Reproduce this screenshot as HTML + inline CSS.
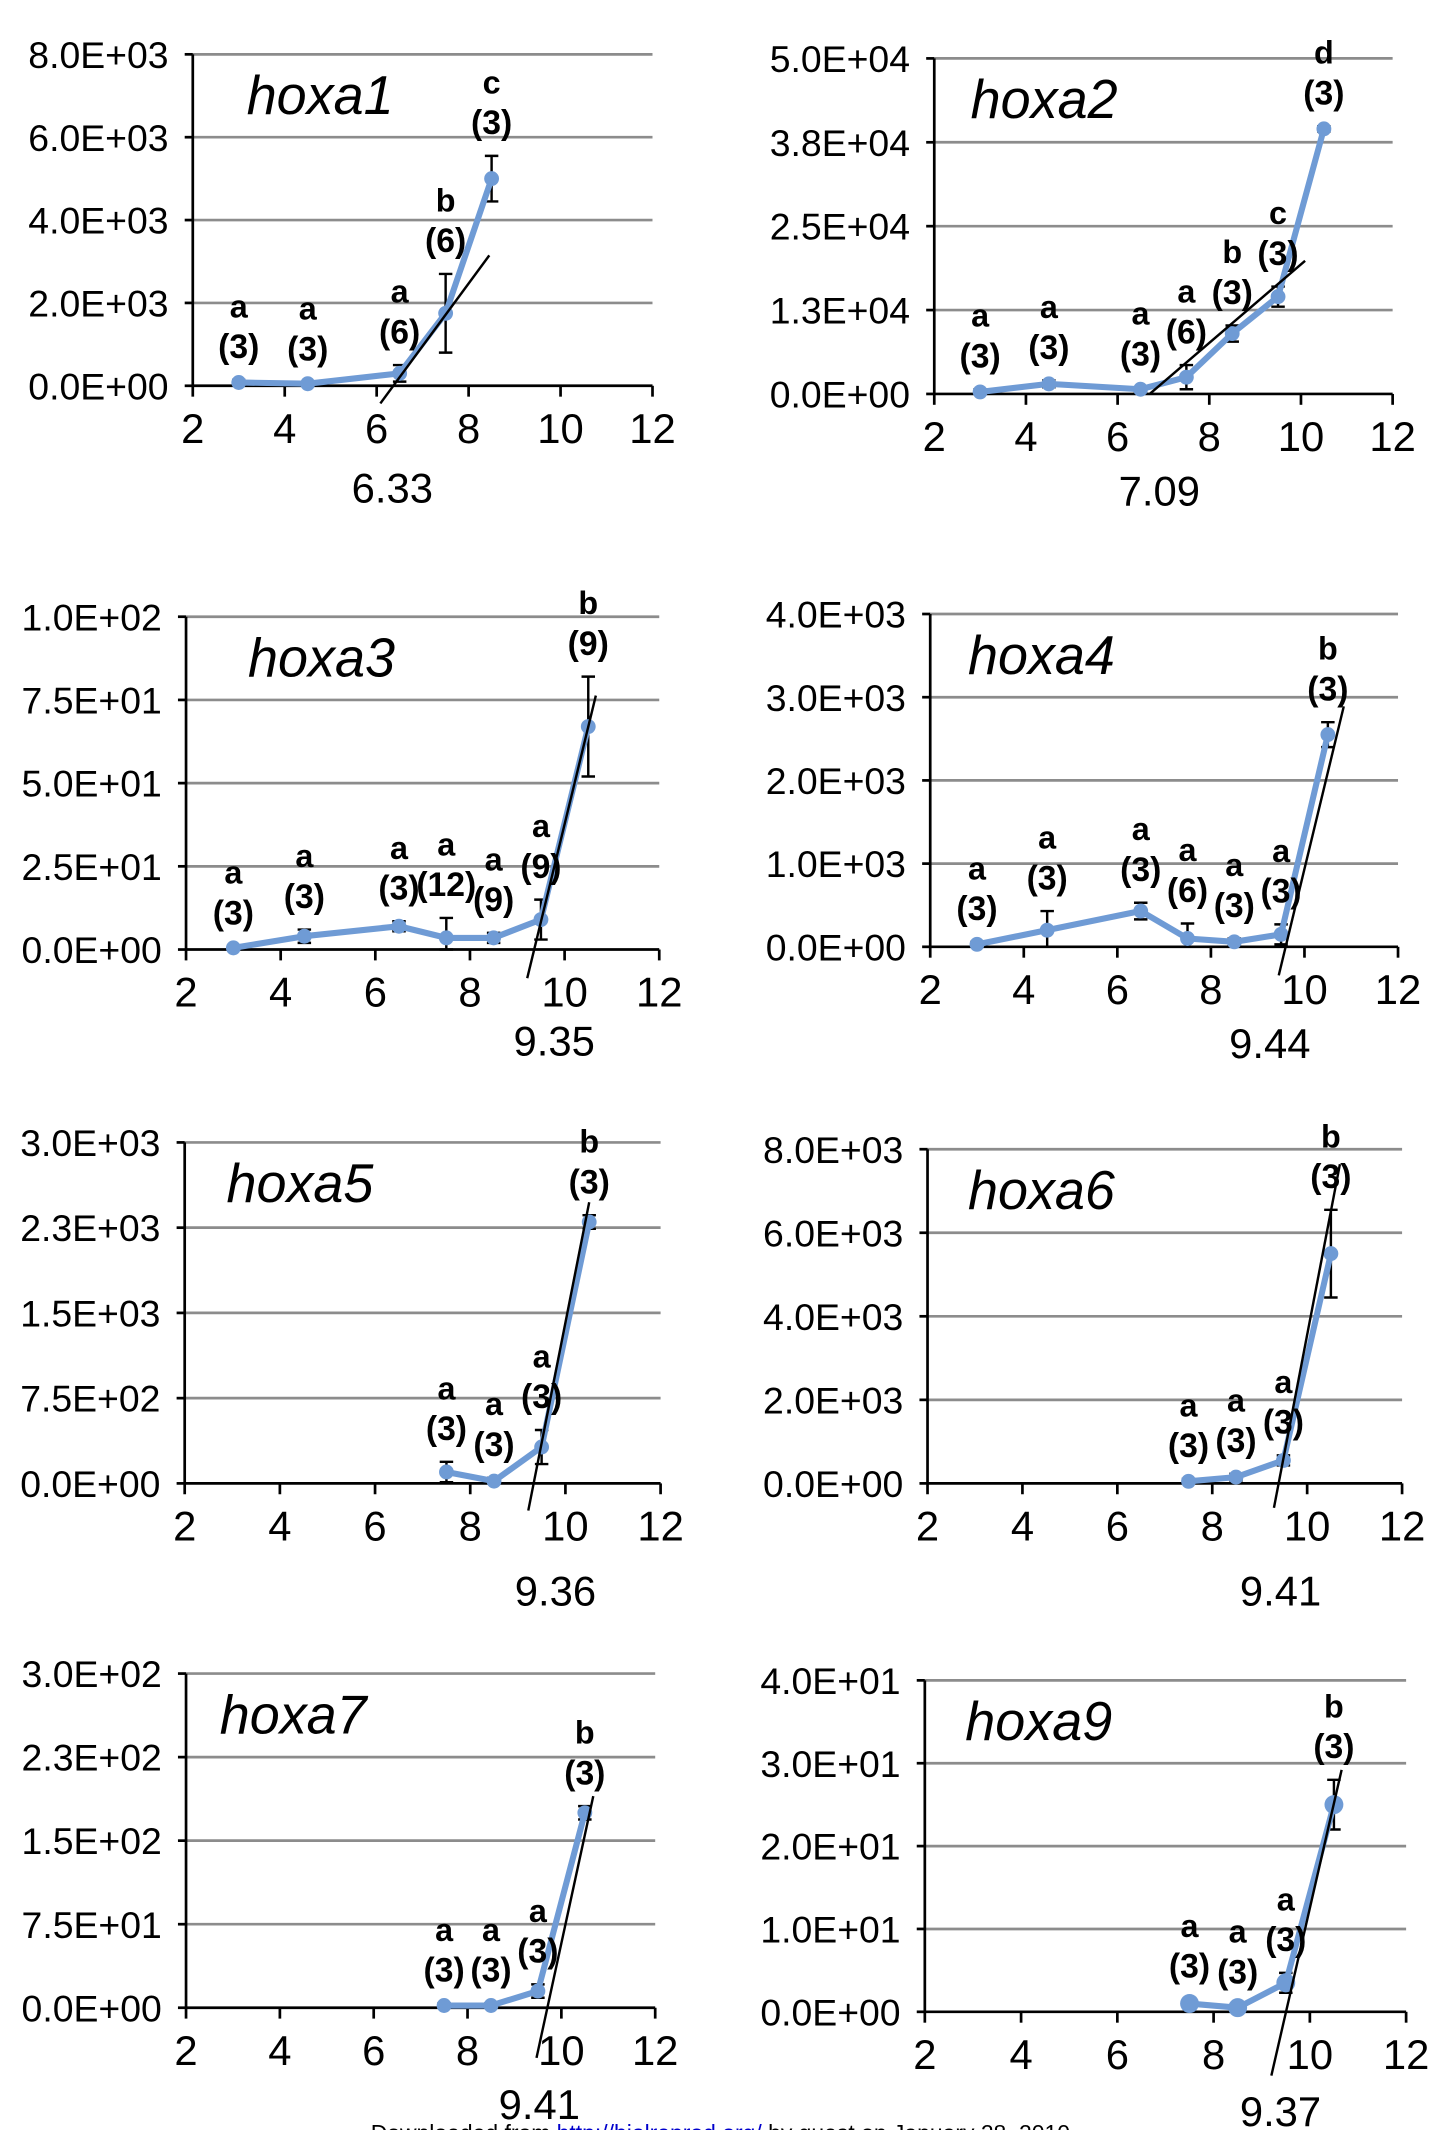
<!DOCTYPE html>
<html><head><meta charset="utf-8"><style>
html,body{margin:0;padding:0;background:#fff;}
svg{display:block;}
text{font-family:"Liberation Sans",sans-serif;}
</style></head><body>
<svg id="fig" width="1456" height="2130" viewBox="0 0 1080 1568" preserveAspectRatio="none" xmlns="http://www.w3.org/2000/svg">
<text x="275" y="1576" font-family="Liberation Serif" font-size="17" fill="#000">Downloaded from <tspan fill="#00c">http://biolreprod.org/</tspan> by guest on January 28, 2010</text>
</svg>
<script>
// ---- data per panel ----
const genes = ["hoxa1","hoxa2","hoxa3","hoxa4","hoxa5","hoxa6","hoxa7","hoxa9"];
const thresholds = ["6.33","7.09","9.35","9.44","9.36","9.41","9.41","9.37"];
const yMax = [8000,50000,100,4000,3000,8000,300,40];
const yTickLabels = [
 ["0.0E+00","2.0E+03","4.0E+03","6.0E+03","8.0E+03"],
 ["0.0E+00","1.3E+04","2.5E+04","3.8E+04","5.0E+04"],
 ["0.0E+00","2.5E+01","5.0E+01","7.5E+01","1.0E+02"],
 ["0.0E+00","1.0E+03","2.0E+03","3.0E+03","4.0E+03"],
 ["0.0E+00","7.5E+02","1.5E+03","2.3E+03","3.0E+03"],
 ["0.0E+00","2.0E+03","4.0E+03","6.0E+03","8.0E+03"],
 ["0.0E+00","7.5E+01","1.5E+02","2.3E+02","3.0E+02"],
 ["0.0E+00","1.0E+01","2.0E+01","3.0E+01","4.0E+01"]
];
const xTicks = [2,4,6,8,10,12];
const xVals = [
 [3,4.5,6.5,7.5,8.5],
 [3,4.5,6.5,7.5,8.5,9.5,10.5],
 [3,4.5,6.5,7.5,8.5,9.5,10.5],
 [3,4.5,6.5,7.5,8.5,9.5,10.5],
 [7.5,8.5,9.5,10.5],
 [7.5,8.5,9.5,10.5],
 [7.5,8.5,9.5,10.5],
 [7.5,8.5,9.5,10.5]
];
const yVals = [
 [80,50,300,1750,5000],
 [300,1500,700,2500,9000,14500,39500],
 [0.5,4,7,3.5,3.5,9,67],
 [30,200,430,100,60,150,2550],
 [100,20,320,2300],
 [50,150,550,5500],
 [2,2,15,175],
 [1,0.5,3.5,25]
];
const errVals = [
 [60,40,200,950,550],
 [400,500,300,1800,1200,1500,400],
 [0.5,2,1.5,6,1.5,6,15],
 [30,230,100,180,40,120,150],
 [90,30,150,60],
 [60,80,120,1050],
 [2,2,6,6],
 [0.5,0.3,1.2,3]
];
const sigLetters = [
 ["a","a","a","b","c"],
 ["a","a","a","a","b","c","d"],
 ["a","a","a","a","a","a","b"],
 ["a","a","a","a","a","a","b"],
 ["a","a","a","b"],
 ["a","a","a","b"],
 ["a","a","a","b"],
 ["a","a","a","b"]
];
const sampleN = [
 ["3","3","6","6","3"],
 ["3","3","3","6","3","3","3"],
 ["3","3","3","12","9","9","9"],
 ["3","3","3","6","3","3","3"],
 ["3","3","3","3"],
 ["3","3","3","3"],
 ["3","3","3","3"],
 ["3","3","3","3"]
];
// tangent lines [x1,y1,x2,y2] in data units
const tangents = [
 [6.08,-426,8.45,3148],
 [6.7,0,10.09,19840],
 [9.21,-8.6,10.66,76.3],
 [9.45,-343,10.84,2890],
 [9.22,-239,10.5,2474],
 [9.30,-585,10.69,7642],
 [9.47,-45,10.68,190],
 [9.20,-7.7,10.66,29.2]
];
// ---- layout (display px in viewBox) ----
const frames = [
 {x0:143,x1:484,top:40,bot:284,tdx:40,lx:6.34,ly:86},
 {x0:693,x1:1033,top:43,bot:290,tdx:27,lx:6.91,ly:82},
 {x0:138,x1:489,top:454,bot:699,tdx:46,lx:9.78,ly:78},
 {x0:690,x1:1037,top:452,bot:697,tdx:28,lx:9.26,ly:82},
 {x0:137,x1:490,top:841,bot:1092,tdx:31,lx:9.79,ly:90},
 {x0:688,x1:1040,top:846,bot:1092,tdx:30,lx:9.44,ly:90},
 {x0:138,x1:486,top:1232,bot:1478,tdx:25,lx:9.53,ly:82},
 {x0:686,x1:1043,top:1237,bot:1481,tdx:30,lx:9.39,ly:84}
];
const NS="http://www.w3.org/2000/svg";
const svg=document.getElementById('fig');
function mk(tag,attrs,parent){const e=document.createElementNS(NS,tag);for(const k in attrs)e.setAttribute(k,attrs[k]);(parent||svg).appendChild(e);return e;}
genes.forEach((g,p)=>{
 const f=frames[p];
 const sx=v=>f.x0+(v-2)/10*(f.x1-f.x0);
 const sy=v=>f.bot-v/yMax[p]*(f.bot-f.top);
 const grp=mk('g',{});
 
 
 yTickLabels[p].forEach((lab,i)=>{
  const yy=sy(yMax[p]*i/4);
  if(i>0){const gl=mk('line',{x1:f.x0,x2:f.x1,y1:yy,y2:yy,stroke:'#8c8c8c','stroke-width':2},grp);
   
   }
  mk('line',{x1:f.x0-6,x2:f.x0,y1:yy,y2:yy,stroke:'#000','stroke-width':2},grp);
  const t=mk('text',{x:f.x0-18,y:yy+10,'text-anchor':'end','font-size':27,textLength:104,lengthAdjust:'spacingAndGlyphs'},grp);
  t.textContent=lab;
  
  
 });
 const ya=mk('line',{x1:f.x0,x2:f.x0,y1:f.top,y2:f.bot,stroke:'#000','stroke-width':2},grp);
 
 
 const xa=mk('line',{x1:f.x0,x2:f.x1,y1:f.bot,y2:f.bot,stroke:'#000','stroke-width':2},grp);
 
 
 xTicks.forEach(v=>{
  mk('line',{x1:sx(v),x2:sx(v),y1:f.bot,y2:f.bot+8,stroke:'#000','stroke-width':2},grp);
  const t=mk('text',{x:sx(v),y:f.bot+42,'text-anchor':'middle','font-size':31},grp);
  t.textContent=v;
  
  
 });
 const tt=mk('text',{x:f.x0+f.tdx,y:f.top+44,'font-size':40,'font-style':'italic'},grp);
 tt.textContent=g;
 
 
 const th=mk('text',{x:sx(f.lx),y:f.bot+f.ly,'text-anchor':'middle','font-size':31},grp);
 th.textContent=thresholds[p];
 
 
 xVals[p].forEach((x,i)=>{
  const lo=sy(Math.max(0,yVals[p][i]-errVals[p][i])),hi=sy(yVals[p][i]+errVals[p][i]);
  const eb=mk('path',{d:`M${sx(x)},${lo}V${hi}M${sx(x)-5},${hi}h10M${sx(x)-5},${lo}h10`,stroke:'#000','stroke-width':1.8,fill:'none'},grp);
  
  
 });
 const pts=xVals[p].map((x,i)=>sx(x)+','+sy(yVals[p][i])).join(' ');
 const ln=mk('polyline',{points:pts,fill:'none',stroke:'#6f9bd5','stroke-width':4.5,'stroke-linejoin':'round'},grp);
 
 
 xVals[p].forEach((x,i)=>{
  const c=mk('circle',{cx:sx(x),cy:sy(yVals[p][i]),r:p==7?7:5.5,fill:'#6f9bd5'},grp);
  
  
  const top=Math.min(sy(yVals[p][i]+errVals[p][i]),sy(yVals[p][i]))-16;
  const n=mk('text',{x:sx(x),y:top,'text-anchor':'middle','font-size':25,'font-weight':'bold'},grp);
  n.textContent='('+sampleN[p][i]+')';
  
  
  const l=mk('text',{x:sx(x),y:top-30,'text-anchor':'middle','font-size':24,'font-weight':'bold'},grp);
  l.textContent=sigLetters[p][i];
  
  
 });
 const tg=tangents[p];
 const tl=mk('line',{x1:sx(tg[0]),y1:sy(tg[1]),x2:sx(tg[2]),y2:sy(tg[3]),stroke:'#000','stroke-width':1.8},grp);
 
 
});
</script>
</body></html>
